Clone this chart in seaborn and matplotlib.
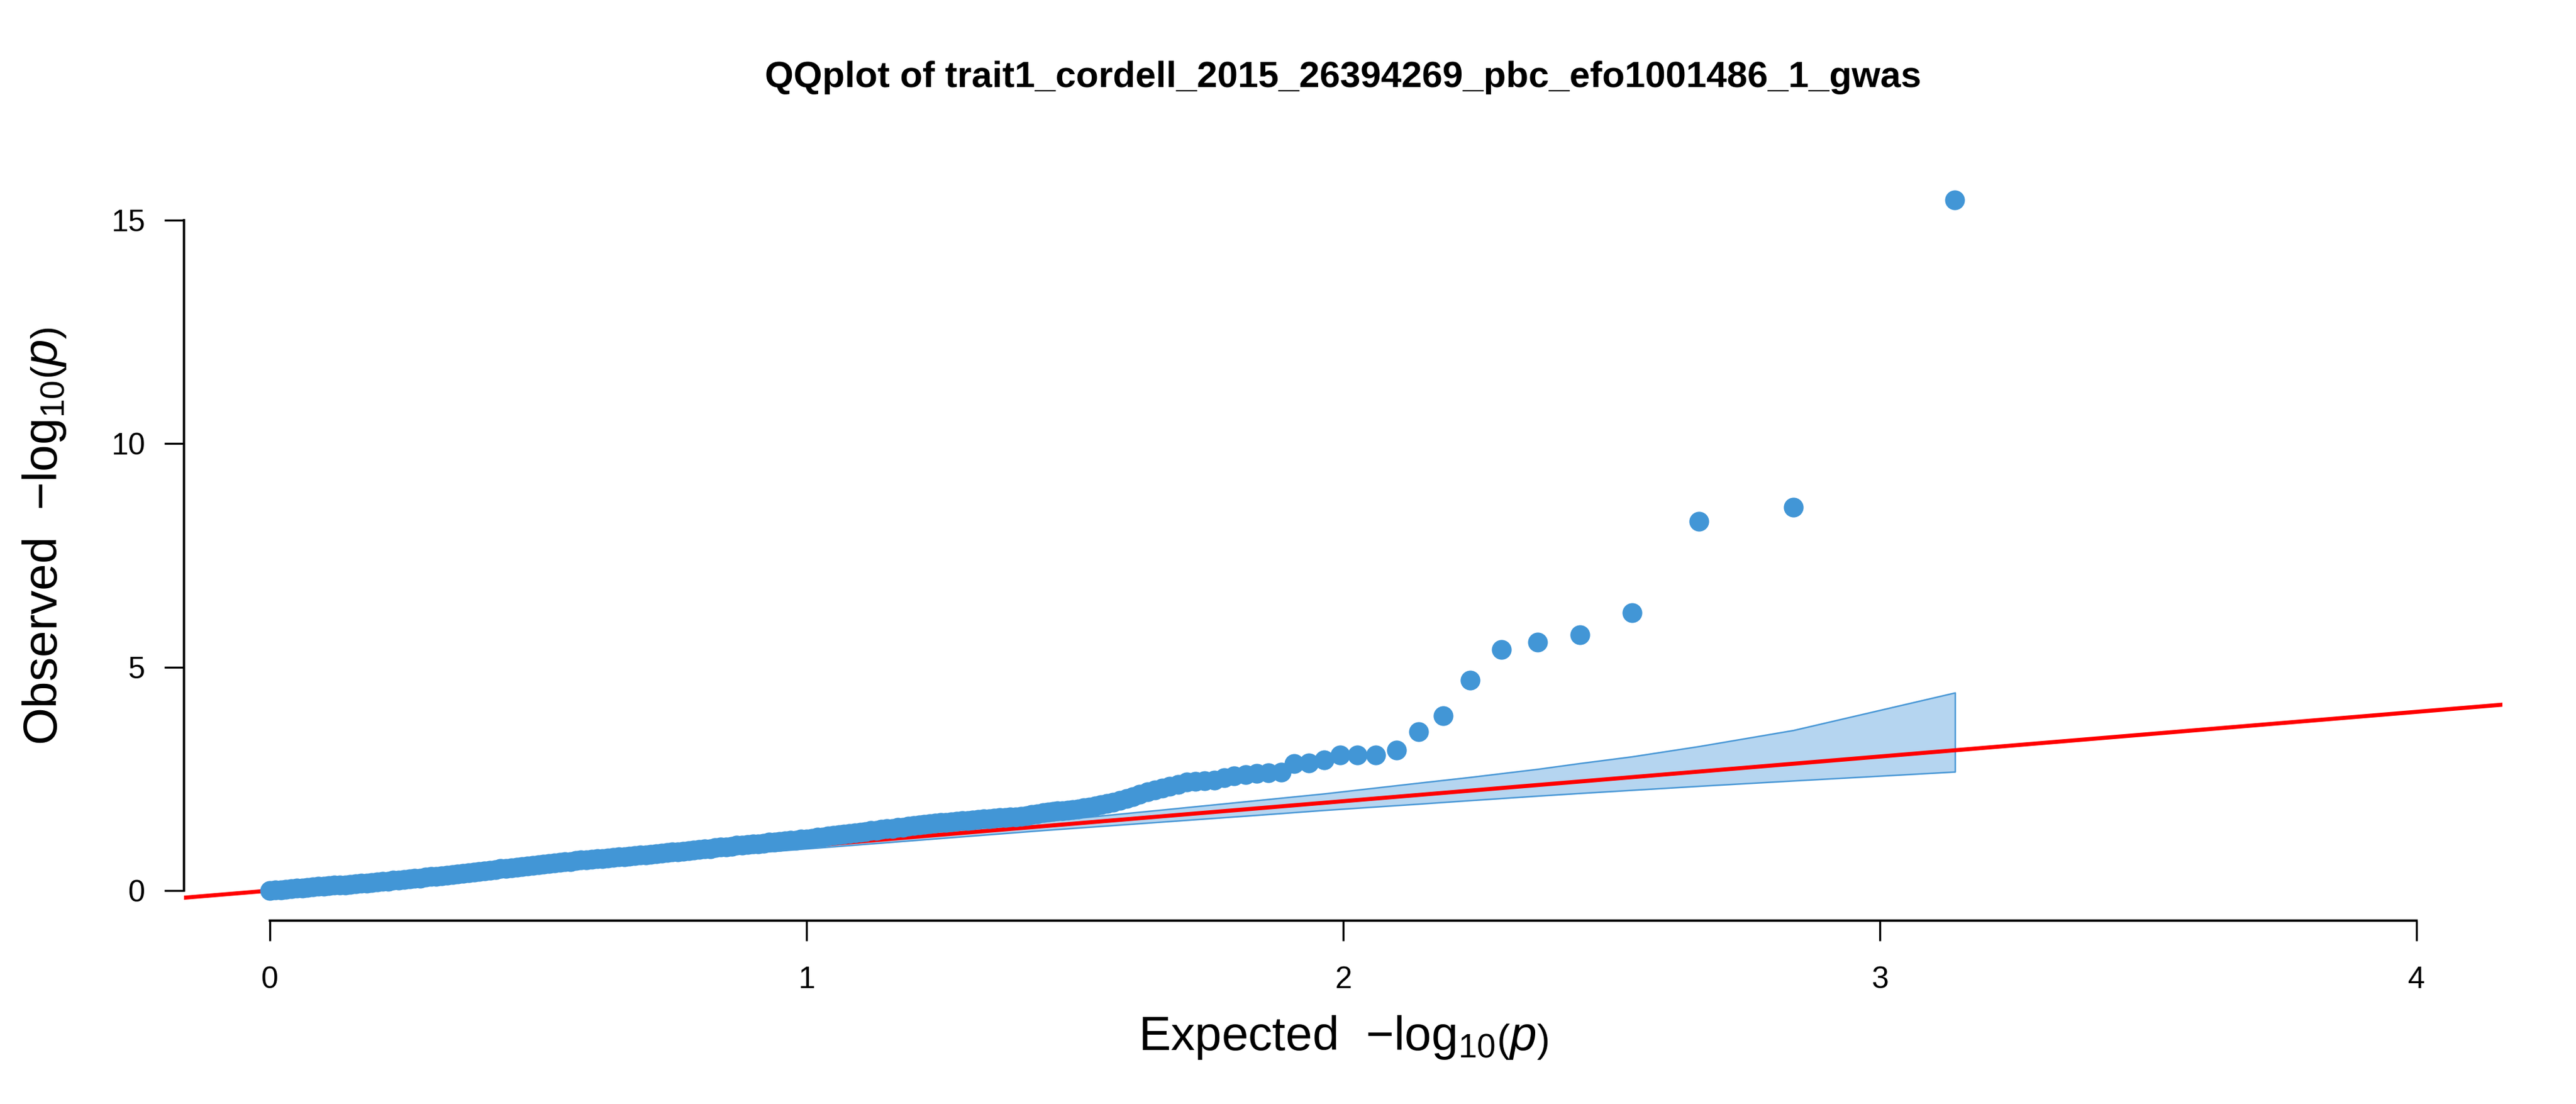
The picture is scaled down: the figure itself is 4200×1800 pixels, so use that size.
import matplotlib
matplotlib.use("Agg")
import matplotlib.pyplot as plt
import seaborn as sns
import pandas as pd

# ---------------- data ----------------
title_text = "QQplot of trait1_cordell_2015_26394269_pbc_efo1001486_1_gwas"

# strongest associations (individually resolved points)
tail_expected = [3.140, 2.839, 2.663, 2.538, 2.441, 2.362, 2.295, 2.237, 2.186, 2.140,
                 2.099, 2.061, 2.026, 1.994, 1.964, 1.936, 1.909, 1.885, 1.861, 1.839,
                 1.818, 1.797, 1.778, 1.760, 1.742, 1.725, 1.709, 1.693, 1.677, 1.663,
                 1.649, 1.635, 1.621, 1.608, 1.596, 1.584, 1.572, 1.560, 1.549, 1.538,
                 1.527, 1.517, 1.506, 1.496, 1.487, 1.477, 1.468, 1.459, 1.450, 1.441]
tail_observed = [15.45, 8.58, 8.26, 6.22, 5.72, 5.56, 5.40, 4.71, 3.91, 3.56,
                 3.14, 3.04, 3.04, 3.04, 2.93, 2.86, 2.84, 2.65, 2.64, 2.62,
                 2.59, 2.57, 2.52, 2.47, 2.46, 2.45, 2.43, 2.38, 2.33, 2.29,
                 2.25, 2.21, 2.15, 2.10, 2.06, 2.02, 1.98, 1.95, 1.92, 1.89,
                 1.87, 1.85, 1.83, 1.81, 1.80, 1.79, 1.78, 1.77, 1.76, 1.75]

# dense bulk of the distribution
bulk_expected = [0.00, 0.01, 0.02, 0.03, 0.04, 0.05, 0.06, 0.07, 0.08, 0.09,
                 0.10, 0.11, 0.12, 0.13, 0.14, 0.15, 0.16, 0.17, 0.18, 0.19,
                 0.20, 0.21, 0.22, 0.23, 0.24, 0.25, 0.26, 0.27, 0.28, 0.29,
                 0.30, 0.31, 0.32, 0.33, 0.34, 0.35, 0.36, 0.37, 0.38, 0.39,
                 0.40, 0.41, 0.42, 0.43, 0.44, 0.45, 0.46, 0.47, 0.48, 0.49,
                 0.50, 0.51, 0.52, 0.53, 0.54, 0.55, 0.56, 0.57, 0.58, 0.59,
                 0.60, 0.61, 0.62, 0.63, 0.64, 0.65, 0.66, 0.67, 0.68, 0.69,
                 0.70, 0.71, 0.72, 0.73, 0.74, 0.75, 0.76, 0.77, 0.78, 0.79,
                 0.80, 0.81, 0.82, 0.83, 0.84, 0.85, 0.86, 0.87, 0.88, 0.89,
                 0.90, 0.91, 0.92, 0.93, 0.94, 0.95, 0.96, 0.97, 0.98, 0.99,
                 1.00, 1.01, 1.02, 1.03, 1.04, 1.05, 1.06, 1.07, 1.08, 1.09,
                 1.10, 1.11, 1.12, 1.13, 1.14, 1.15, 1.16, 1.17, 1.18, 1.19,
                 1.20, 1.21, 1.22, 1.23, 1.24, 1.25, 1.26, 1.27, 1.28, 1.29,
                 1.30, 1.31, 1.32, 1.33, 1.34, 1.35, 1.36, 1.37, 1.38, 1.39,
                 1.40, 1.41, 1.42, 1.43]
bulk_observed = [0.00, 0.01, 0.02, 0.03, 0.04, 0.05, 0.06, 0.07, 0.08, 0.09,
                 0.10, 0.11, 0.12, 0.12, 0.13, 0.14, 0.15, 0.16, 0.17, 0.18,
                 0.19, 0.20, 0.21, 0.23, 0.24, 0.25, 0.26, 0.27, 0.28, 0.30,
                 0.31, 0.32, 0.33, 0.35, 0.36, 0.37, 0.38, 0.40, 0.41, 0.43,
                 0.44, 0.46, 0.47, 0.49, 0.50, 0.51, 0.52, 0.54, 0.55, 0.57,
                 0.58, 0.59, 0.60, 0.62, 0.63, 0.64, 0.65, 0.67, 0.68, 0.69,
                 0.70, 0.71, 0.72, 0.73, 0.74, 0.75, 0.76, 0.77, 0.78, 0.79,
                 0.80, 0.81, 0.82, 0.84, 0.85, 0.86, 0.87, 0.88, 0.89, 0.91,
                 0.92, 0.93, 0.94, 0.96, 0.97, 0.98, 0.99, 1.01, 1.02, 1.03,
                 1.04, 1.05, 1.06, 1.08, 1.09, 1.10, 1.11, 1.12, 1.13, 1.15,
                 1.16, 1.17, 1.19, 1.20, 1.22, 1.23, 1.25, 1.26, 1.28, 1.29,
                 1.31, 1.32, 1.34, 1.35, 1.37, 1.38, 1.39, 1.41, 1.42, 1.44,
                 1.45, 1.47, 1.48, 1.50, 1.51, 1.52, 1.53, 1.54, 1.55, 1.56,
                 1.57, 1.58, 1.59, 1.60, 1.61, 1.62, 1.63, 1.64, 1.65, 1.65,
                 1.66, 1.67, 1.70, 1.72]

# 90% confidence band around the null expectation
band_expected = [3.140, 2.839, 2.663, 2.538, 2.441, 2.362, 2.237, 2.140, 1.964, 1.839,
                 1.663, 1.441, 1.140, 0.839, 0.538, 0.295, 0.140, 0.000]
band_upper = [4.43, 3.59, 3.23, 3.00, 2.85, 2.72, 2.54, 2.41, 2.17, 2.02,
              1.81, 1.55, 1.21, 0.89, 0.57, 0.31, 0.15, 0.00]
band_lower = [2.66, 2.46, 2.34, 2.25, 2.18, 2.12, 2.02, 1.94, 1.80, 1.69,
              1.54, 1.35, 1.07, 0.79, 0.51, 0.28, 0.13, 0.00]

x_ticks = [0, 1, 2, 3, 4]
y_ticks = [0, 5, 10, 15]

# ---------------- style ----------------
sns.set_theme(style="ticks")
plt.rcParams["font.family"] = ["Liberation Sans", "DejaVu Sans"]
plt.rcParams["mathtext.fontset"] = "custom"
plt.rcParams["mathtext.rm"] = "Liberation Sans"
plt.rcParams["mathtext.it"] = "Liberation Sans:italic"
plt.rcParams["mathtext.bf"] = "Liberation Sans:bold"
plt.rcParams["text.color"] = "black"
plt.rcParams["axes.labelcolor"] = "black"

point_color = "#4296D6"
band_fill = "#B5D5F0"
band_edge = "#4A98D6"

W, H = 4200, 1800
fig = plt.figure(figsize=(14, 6), dpi=300)
ax = fig.add_axes([300 / W, 1 - 1501 / H, (4080 - 300) / W, (1501 - 279) / H])

pts = pd.DataFrame({
    "expected": tail_expected + bulk_expected,
    "observed": tail_observed + bulk_observed,
})

# confidence band
ax.fill_between(band_expected, band_lower, band_upper, facecolor=band_fill,
                edgecolor=band_edge, linewidth=0.6, zorder=1)
# null line
ax.axline((0, 0), slope=1, color="#FF0000", linewidth=1.6, zorder=2)
# points
sns.scatterplot(data=pts, x="expected", y="observed", ax=ax, color=point_color,
                s=60, linewidth=0, zorder=3, legend=False)

ax.set_xlim(-0.16, 4.16)
ax.set_ylim(-0.672, 16.10)
ax.set_xticks(x_ticks)
ax.set_yticks(y_ticks)
ax.set_xticklabels([str(v) for v in x_ticks])
ax.set_yticklabels([str(v) for v in y_ticks])
ax.set_xlabel("")
ax.set_ylabel("")

for side in ["top", "right"]:
    ax.spines[side].set_visible(False)
ax.spines["left"].set_bounds(0, 15)
ax.spines["bottom"].set_bounds(0, 4)
for side in ["left", "bottom"]:
    ax.spines[side].set_linewidth(0.9)
    ax.spines[side].set_color("black")

ax.tick_params(axis="x", direction="out", length=7.8, width=0.8, pad=10,
               labelsize=12, colors="black")
ax.tick_params(axis="y", direction="out", length=7.7, width=0.8, pad=7.4,
               labelsize=12, colors="black")

# title and axis labels
fig.text(2190 / W, 1 - 142 / H, title_text, ha="center", va="baseline",
         fontsize=14.4, fontweight="bold", color="black")
fig.text(2190 / W, 1 - 1712 / H, r"Expected  $-\mathrm{log}_{10}\left(\mathit{p}\right)$",
         ha="center", va="baseline", fontsize=18.8, color="black")
fig.text(93 / W, 1 - 874 / H, r"Observed  $-\mathrm{log}_{10}\left(\mathit{p}\right)$",
         ha="center", va="baseline", fontsize=18.8, rotation=90, rotation_mode="anchor",
         color="black")

fig.savefig("out.png", dpi=300, facecolor="white")
